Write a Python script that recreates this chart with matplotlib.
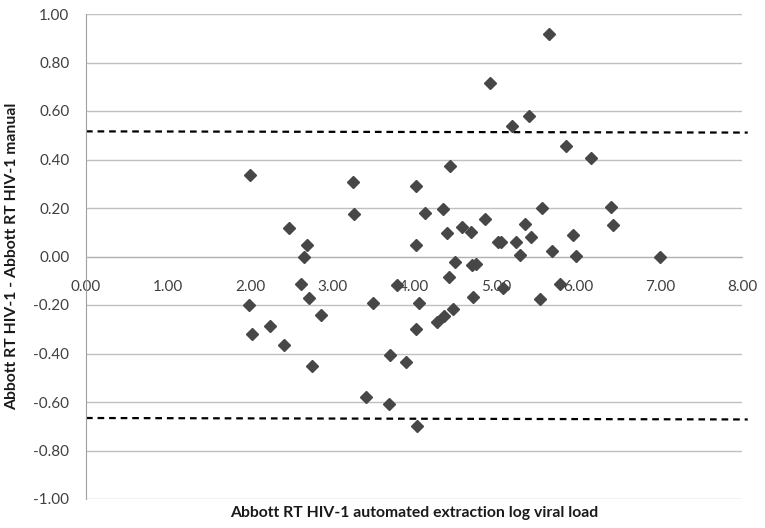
import matplotlib
matplotlib.use('Agg')
import matplotlib.pyplot as plt
import numpy as np

plt.rcParams['font.family'] = ['Lato', 'DejaVu Sans']

# mean log viral load (automated extraction) vs difference
x_vals = [2.00, 1.99, 2.03, 2.24, 2.42, 2.48, 2.62, 2.66, 2.70, 2.72, 2.75, 2.87,
          3.25, 3.27, 3.42, 3.50, 3.70, 3.71, 3.79, 3.90,
          4.02, 4.03, 4.03, 4.04, 4.06, 4.13, 4.28, 4.35, 4.36, 4.40, 4.43, 4.44,
          4.48, 4.50, 4.58, 4.70, 4.71, 4.75, 4.72, 4.86, 4.93,
          5.02, 5.06, 5.09, 5.20, 5.24, 5.29, 5.35, 5.40, 5.43, 5.54, 5.56, 5.65,
          5.68, 5.78, 5.85, 5.94, 5.97, 6.16, 6.40, 6.43, 7.00]
diff_vals = [0.335, -0.20, -0.32, -0.285, -0.366, 0.118, -0.115, -0.004, 0.049, -0.172, -0.45, -0.242,
             0.306, 0.177, -0.58, -0.19, -0.607, -0.408, -0.118, -0.434,
             -0.30, 0.29, 0.047, -0.70, -0.19, 0.18, -0.27, 0.194, -0.246, 0.098, -0.085, 0.372,
             -0.216, -0.023, 0.122, 0.10, -0.036, -0.03, -0.168, 0.153, 0.716,
             0.06, 0.06, -0.13, 0.538, 0.059, 0.006, 0.136, 0.58, 0.081, -0.175, 0.198, 0.919,
             0.022, -0.115, 0.455, 0.088, 0.001, 0.405, 0.204, 0.129, 0.0]

# limits of agreement (drawn slightly sloped like the original)
loa_x = [0.0, 8.07]
loa_upper = [0.516, 0.511]
loa_lower = [-0.666, -0.672]

xticks = [0, 1, 2, 3, 4, 5, 6, 7, 8]
yticks = [-1.0, -0.8, -0.6, -0.4, -0.2, 0.0, 0.2, 0.4, 0.6, 0.8, 1.0]

fig = plt.figure(figsize=(7.65, 5.28), dpi=100)
ax = fig.add_axes([86 / 765, 1 - 499 / 528, 656 / 765, 485 / 528])

ax.set_xlim(0, 8)
ax.set_ylim(-1, 1)
ax.set_xticks(xticks)
ax.set_yticks(yticks)
ax.set_xticklabels(['%.2f' % v for v in xticks])
ax.set_yticklabels(['%.2f' % (v + 0.0) for v in yticks])

ax.grid(axis='y', color='#c0c0c0', linewidth=1.0)
ax.set_axisbelow(True)

for s in ['top', 'right']:
    ax.spines[s].set_visible(False)
ax.spines['bottom'].set_position(('data', 0))
ax.spines['bottom'].set_color('#b0b0b0')
ax.spines['left'].set_color('#a0a0a0')

ax.tick_params(axis='both', length=0, labelsize=11, labelcolor='#404040')
ax.tick_params(axis='x', pad=17)
ax.tick_params(axis='y', pad=12)

ax.plot(loa_x, loa_upper, color='black', linestyle=(0, (3, 2.2)), linewidth=1.6, clip_on=False)
ax.plot(loa_x, loa_lower, color='black', linestyle=(0, (3, 2.2)), linewidth=1.6, clip_on=False)

ax.plot(x_vals, diff_vals, linestyle='none', marker='D', markersize=6,
        color='#474747', markeredgecolor='#474747', zorder=3)

ax.set_xlabel('Abbott RT HIV-1 automated extraction log viral load',
              fontsize=11.3, fontweight='bold', color='#1a1a1a', va='center')
ax.xaxis.set_label_coords(0.5, -0.029)
ax.set_ylabel('Abbott RT HIV-1 - Abbott RT HIV-1 manual',
              fontsize=11.3, fontweight='bold', color='#1a1a1a', va='center')
ax.yaxis.set_label_coords(-0.112, 0.5)

fig.savefig('out.png', dpi=100)
